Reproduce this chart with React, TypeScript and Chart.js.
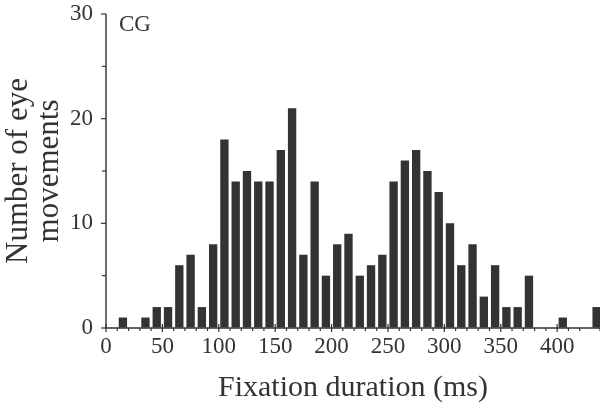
import React, { useEffect, useRef } from "react";
import { Chart, registerables } from "chart.js";

Chart.register(...registerables);

// Bin centres (ms) of the 10 ms histogram bins
const binCentres = [
  15, 25, 35, 45, 55, 65, 75, 85, 95, 105, 115, 125, 135, 145, 155, 165, 175, 185, 195, 205,
  215, 225, 235, 245, 255, 265, 275, 285, 295, 305, 315, 325, 335, 345, 355, 365, 375, 385,
  395, 405, 415, 425, 435,
];
// Number of eye movements per bin
const counts = [
  1, 0, 1, 2, 2, 6, 7, 2, 8, 18, 14, 15, 14, 14, 17, 21, 7, 14, 5, 8,
  9, 5, 6, 7, 14, 16, 17, 15, 13, 10, 6, 8, 3, 6, 2, 2, 5, 0,
  0, 1, 0, 0, 2,
];
const xLabelValues = [0, 50, 100, 150, 200, 250, 300, 350, 400];
const yLabelValues = [0, 10, 20, 30];
const panelLabel = "CG";
const xTitle = "Fixation duration (ms)";
const yTitle = ["Number of eye", "movements"];

const INK = "#333333";
const SERIF = "'Liberation Serif', 'DejaVu Serif', serif";

const axesPlugin = {
  id: "customAxes",
  afterDatasetsDraw(chart: any) {
    const { ctx } = chart;
    const xs = chart.scales.x;
    const ys = chart.scales.y;
    const x0 = xs.left;
    const y0 = ys.getPixelForValue(0);
    const yTop = ys.getPixelForValue(30);
    ctx.save();
    ctx.strokeStyle = INK;
    ctx.lineWidth = 1.4;
    ctx.beginPath();
    ctx.moveTo(x0, yTop);
    ctx.lineTo(x0, y0);
    ctx.lineTo(xs.right, y0);
    ctx.stroke();
    ctx.lineWidth = 1.2;
    // y ticks
    ys.ticks.forEach((t: any) => {
      const py = ys.getPixelForValue(t.value);
      const major = t.value % 10 === 0;
      ctx.beginPath();
      ctx.moveTo(x0 - (major ? 5 : 4), py);
      ctx.lineTo(x0, py);
      ctx.stroke();
    });
    // x ticks
    xs.ticks.forEach((t: any) => {
      const px = xs.getPixelForValue(t.value);
      const major = t.value % 50 === 0;
      ctx.beginPath();
      ctx.moveTo(px, major ? y0 - 4 : y0);
      ctx.lineTo(px, y0 + (major ? 4 : 3));
      ctx.stroke();
    });
    // panel label
    ctx.fillStyle = INK;
    ctx.font = `23px ${SERIF}`;
    ctx.textAlign = "left";
    ctx.textBaseline = "middle";
    ctx.fillText(panelLabel, x0 + 13, yTop + 11);
    ctx.restore();
  },
};

export default function App() {
  const ref = useRef<HTMLCanvasElement | null>(null);
  useEffect(() => {
    if (!ref.current) return;
    const chart = new Chart(ref.current, {
      type: "bar",
      data: {
        datasets: [
          {
            data: binCentres.map((c, i) => ({ x: c, y: counts[i] })),
            backgroundColor: "#333333",
            borderWidth: 0,
            barPercentage: 0.74,
            categoryPercentage: 1,
          },
        ],
      },
      options: {
        animation: false,
        responsive: false,
        devicePixelRatio: 1,
        layout: { padding: { top: 14, left: 0, right: 0, bottom: 0 } },
        plugins: { legend: { display: false }, tooltip: { enabled: false } },
        scales: {
          x: {
            type: "linear",
            min: 0,
            max: 438,
            offset: false,
            border: { display: false },
            grid: { display: true, drawOnChartArea: false, drawTicks: false, color: "rgba(0,0,0,0)" },
            ticks: {
              stepSize: 10,
              autoSkip: false,
              maxRotation: 0,
              padding: 5,
              color: INK,
              font: { family: SERIF, size: 23 },
              callback: (v: any) => (xLabelValues.includes(Number(v)) ? String(v) : ""),
            },
            title: {
              display: true,
              text: xTitle,
              color: INK,
              font: { family: SERIF, size: 30, lineHeight: 1.2 },
              padding: { top: 0, bottom: 4 },
            },
            afterFit: (s: any) => {
              s.height = 82;
              s.paddingLeft = 0;
              s.paddingRight = 0;
            },
          },
          y: {
            min: 0,
            max: 30,
            border: { display: false },
            grid: { display: true, drawOnChartArea: false, drawTicks: false, color: "rgba(0,0,0,0)" },
            ticks: {
              stepSize: 5,
              autoSkip: false,
              padding: 13,
              color: INK,
              font: { family: SERIF, size: 23 },
              callback: (v: any) => (yLabelValues.includes(Number(v)) ? String(v) : ""),
            },
            title: {
              display: true,
              text: yTitle,
              color: INK,
              font: { family: SERIF, size: 31, lineHeight: "31px" },
              padding: { top: 3, bottom: 0 },
            },
            afterFit: (s: any) => {
              s.width = 106;
              s.paddingTop = 0;
              s.paddingBottom = 0;
            },
          },
        },
      },
      plugins: [axesPlugin],
    });
    return () => chart.destroy();
  }, []);
  return (
    <div style={{ position: "absolute", left: 0, top: 0, width: 600, height: 410, background: "#fff" }}>
      <canvas ref={ref} width={600} height={410} />
    </div>
  );
}
